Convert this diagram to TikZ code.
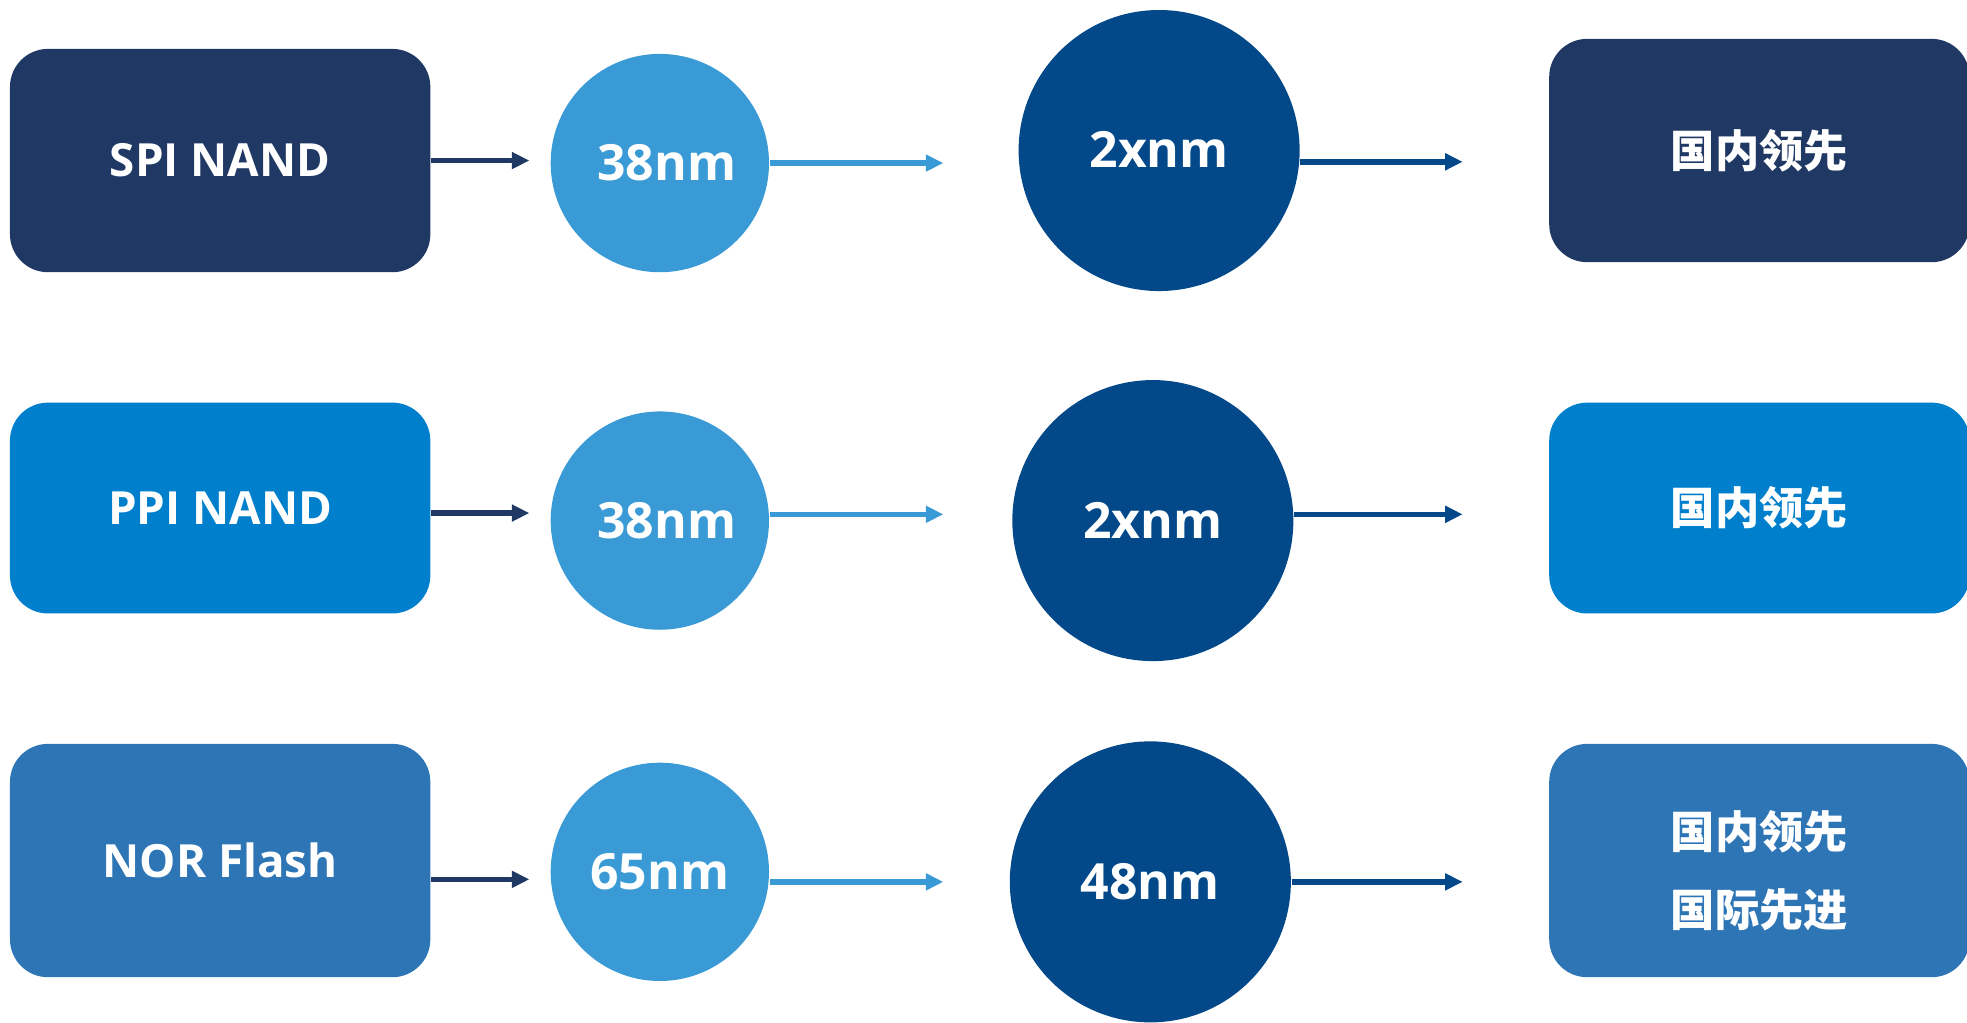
\documentclass[tikz,border=0pt]{standalone}
\usepackage{fontspec}
\setmainfont{Open Sans}[BoldFont={Open Sans Bold}]
\newfontfamily\cjk{Noto Sans CJK SC}
\usetikzlibrary{arrows.meta}
\definecolor{navy}{HTML}{203864}
\definecolor{midblue}{HTML}{0080CC}
\definecolor{norblue}{HTML}{2E75B6}
\definecolor{lightc}{HTML}{3A9AD6}
\definecolor{darkc}{HTML}{03498A}
\tikzset{
  box/.style={rounded corners=0.38cm, minimum width=4.203cm, inner sep=0pt, text=white, font=\bfseries\fontsize{13}{16}\selectfont, align=center},
  smallc/.style={circle, fill=lightc, minimum size=2.183cm, inner sep=0pt, text=white, font=\bfseries\fontsize{14.2}{17}\selectfont},
  bigc/.style={circle, fill=darkc, minimum size=2.81cm, inner sep=0pt, text=white, font=\bfseries\fontsize{14.2}{17}\selectfont},
  res/.style={box, font=\cjk\bfseries\fontsize{12.6}{22}\selectfont},
  conn/.style={line width=1.6pt, -{Triangle[length=5pt,width=4.6pt]}}
}
\begin{document}
\begin{tikzpicture}[x={(0.012545cm,0)}, y={(0,-0.012545cm)}]
\useasboundingbox (0,0) rectangle (1568,815);
% row 1
\node[box, fill=navy, minimum height=2.233cm] (A1) at (175.5,128) {SPI NAND};
\node[smallc] (B1) at (526,130) {\hspace*{4pt}\raisebox{-1pt}{38nm}};
\node[bigc] (C1) at (924,120) {\raisebox{0.6pt}{2xnm}};
\node[res, fill=navy, minimum height=2.233cm] (D1) at (1402.5,120) {\raisebox{-0.6pt}{国内领先}};
% row 2
\node[box, fill=midblue, minimum height=2.108cm] (A2) at (175.5,405) {PPI NAND};
\node[smallc] (B2) at (526,415) {\hspace*{4pt}\raisebox{-1pt}{38nm}};
\node[bigc] (C2) at (919,415) {\raisebox{-1pt}{2xnm}};
\node[res, fill=midblue, minimum height=2.108cm] (D2) at (1402.5,405) {国内领先};
% row 3
\node[box, fill=norblue, minimum height=2.333cm] (A3) at (175.5,686) {NOR Flash};
\node[smallc] (B3) at (526,695) {\raisebox{-2pt}{65nm}};
\node[bigc] (C3) at (917,703) {\raisebox{-0.6pt}{48nm}};
\node[res, fill=norblue, minimum height=2.333cm] (D3) at (1402.5,686) {\rule{0pt}{16.5pt}国内领先\\国际先进};
% arrow ends
\coordinate (a1) at (422,128);
\coordinate (b1) at (752,130);
\coordinate (c1) at (1166,129);
\coordinate (a2) at (422,409);
\coordinate (b2) at (752,410);
\coordinate (c2) at (1166,410);
\coordinate (a3) at (422,701);
\coordinate (b3) at (752,703);
\coordinate (c3) at (1166,703);
% arrows
\draw[conn, navy] (A1.east |- a1) -- (a1);
\draw[conn, lightc] (B1.east |- b1) -- (b1);
\draw[conn, darkc] (C1.east |- c1) -- (c1);
\draw[conn, navy] (A2.east |- a2) -- (a2);
\draw[conn, lightc] (B2.east |- b2) -- (b2);
\draw[conn, darkc] (C2.east |- c2) -- (c2);
\draw[conn, navy] (A3.east |- a3) -- (a3);
\draw[conn, lightc] (B3.east |- b3) -- (b3);
\draw[conn, darkc] (C3.east |- c3) -- (c3);
\end{tikzpicture}
\end{document}
